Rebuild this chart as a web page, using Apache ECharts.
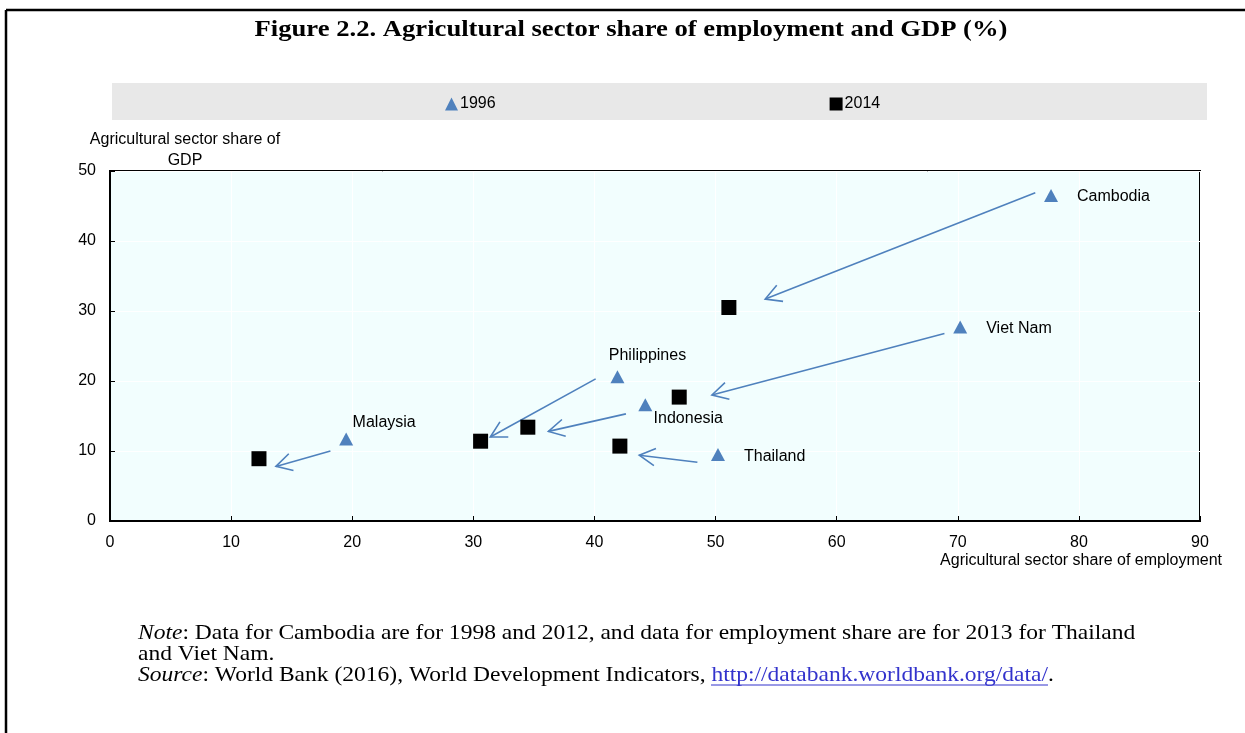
<!DOCTYPE html>
<html>
<head>
<meta charset="utf-8">
<script src="https://cdn.jsdelivr.net/npm/echarts@6/dist/echarts.min.js"></script>
<style>
  html, body { margin: 0; padding: 0; background: #fff; }
  #chart { width: 1245px; height: 733px; }
</style>
</head>
<body>
<div id="chart"></div>
<script>
(function () {
  // data
  var countries = ['Cambodia', 'Viet Nam', 'Philippines', 'Indonesia', 'Thailand', 'Malaysia'];
  var emp1996 = [77.7, 70.2, 41.9, 44.2, 50.2, 19.5];
  var gdp1996 = [46.5, 27.7, 20.6, 16.6, 9.5, 11.7];
  var emp2014 = [51.1, 47.0, 30.6, 34.5, 42.1, 12.3];
  var gdp2014 = [30.5, 17.7, 11.4, 13.4, 10.7, 8.9];
  // arrows as drawn on the figure (start near 1996 point, tip near 2014 point)
  var arrowFromX = [76.4, 68.9, 40.1, 42.6, 48.5, 18.2];
  var arrowFromY = [46.9, 26.8, 20.3, 15.3, 8.4, 10.0];
  var arrowToX = [54.1, 49.7, 31.4, 36.2, 43.7, 13.7];
  var arrowToY = [31.7, 18.0, 12.0, 12.8, 9.4, 7.8];
  var xTicks = [0, 90, 10];
  var yTicks = [0, 50, 10];

  var sans = "'Liberation Sans', Arial, sans-serif";
  var serif = "'Liberation Serif', 'Times New Roman', serif";
  var blue = '#4f81bd';

  // label placement for each country's 1996 marker
  var labelPos = {
    'Cambodia': { position: 'right', offset: [14, 1] },
    'Viet Nam': { position: 'right', offset: [14, 1] },
    'Philippines': { position: 'top', offset: [30, -2] },
    'Indonesia': { position: 'bottom', offset: [43, -6] },
    'Thailand': { position: 'right', offset: [14, 2] },
    'Malaysia': { position: 'top', offset: [38, 3] }
  };

  var tri = countries.map(function (c, i) {
    var lp = labelPos[c];
    return {
      value: [emp1996[i], gdp1996[i]],
      label: { show: true, formatter: c, position: lp.position, offset: lp.offset,
        color: '#000', fontSize: 16, fontFamily: sans }
    };
  });
  var sq = countries.map(function (c, i) { return [emp2014[i], gdp2014[i]]; });
  var arrows = countries.map(function (c, i) {
    return [arrowFromX[i], arrowFromY[i], arrowToX[i], arrowToY[i]];
  });

  var chart = echarts.init(document.getElementById('chart'));
  var option = {
    animation: false,
    textStyle: { fontFamily: sans },
    grid: {
      left: 110, right: 45, top: 171, bottom: 212,
      show: true, backgroundColor: '#f2fefe', borderColor: '#000', borderWidth: 2
    },
    legend: {
      left: 440, top: 91, itemGap: 334, itemWidth: 13, itemHeight: 13,
      textStyle: { color: '#000', fontSize: 16, fontFamily: sans, padding: [0, 0, 0, -3] },
      data: ['1996', '2014']
    },
    xAxis: {
      type: 'value', min: xTicks[0], max: xTicks[1], interval: xTicks[2],
      name: 'Agricultural sector share of employment',
      nameLocation: 'end', nameGap: 22,
      nameTextStyle: { align: 'right', verticalAlign: 'top', padding: [32, 0, 0, 0],
        color: '#000', fontSize: 16, fontFamily: sans },
      axisLine: { lineStyle: { color: '#000', width: 2 } },
      axisTick: { inside: true, length: 5, lineStyle: { color: '#000' } },
      axisLabel: { color: '#000', fontSize: 16, margin: 14 },
      splitLine: { lineStyle: { color: '#fff', width: 1 } }
    },
    yAxis: {
      type: 'value', min: yTicks[0], max: yTicks[1], interval: yTicks[2],
      axisLine: { show: true, lineStyle: { color: '#000', width: 2 } },
      axisTick: { show: true, inside: true, length: 5, lineStyle: { color: '#000' } },
      axisLabel: { color: '#000', fontSize: 16, margin: 14 },
      splitLine: { lineStyle: { color: '#fff', width: 1 } }
    },
    graphic: [
      { type: 'line', shape: { x1: 6, y1: 10, x2: 1245, y2: 10 }, style: { stroke: '#000', lineWidth: 2.5 } },
      { type: 'line', shape: { x1: 6, y1: 10, x2: 6, y2: 733 }, style: { stroke: '#000', lineWidth: 2.5 } },
      { type: 'text', x: 631, y: 30, scaleX: 1.11, style: { text: 'Figure 2.2. Agricultural sector share of employment and GDP (%)',
        font: 'bold 24px ' + serif, fill: '#000', textAlign: 'center', textVerticalAlign: 'middle' } },
      { type: 'rect', z: -1, shape: { x: 112, y: 83, width: 1095, height: 37 }, style: { fill: '#e8e8e8' } },
      { type: 'text', x: 185, y: 150, style: { text: 'Agricultural sector share of\nGDP',
        font: '16px ' + sans, fill: '#000', textAlign: 'center', textVerticalAlign: 'middle', lineHeight: 21 } },
      { type: 'text', x: 138, y: 623, scaleX: 1.12, style: {
        text: '{i|Note}: Data for Cambodia are for 1998 and 2012, and data for employment share are for 2013 for Thailand\nand Viet Nam.\n{i|Source}: World Bank (2016), World Development Indicators, {a|http://databank.worldbank.org/data/}.',
        font: '21px ' + serif, fill: '#000', lineHeight: 21,
        rich: {
          i: { fontStyle: 'italic', fontFamily: serif, fontSize: 21 },
          a: { fill: '#3333cc', color: '#3333cc', fontFamily: serif, fontSize: 21 }
        } } },
      { type: 'line', shape: { x1: 711, y1: 685, x2: 1048, y2: 685 }, style: { stroke: '#3333cc', lineWidth: 1 } }
    ],
    series: [
      {
        name: 'arrows', type: 'custom', z: 2, silent: true,
        data: arrows,
        renderItem: function (params, api) {
          var p0 = api.coord([api.value(0), api.value(1)]);
          var p1 = api.coord([api.value(2), api.value(3)]);
          var ang = Math.atan2(p0[1] - p1[1], p0[0] - p1[0]);
          var len = 18, spread = 0.5;
          var a1 = [p1[0] + len * Math.cos(ang + spread), p1[1] + len * Math.sin(ang + spread)];
          var a2 = [p1[0] + len * Math.cos(ang - spread), p1[1] + len * Math.sin(ang - spread)];
          var st = { stroke: blue, lineWidth: 1.6, fill: null };
          return {
            type: 'group',
            children: [
              { type: 'line', shape: { x1: p0[0], y1: p0[1], x2: p1[0], y2: p1[1] }, style: st },
              { type: 'polyline', shape: { points: [a1, p1, a2] }, style: st }
            ]
          };
        }
      },
      {
        name: '1996', type: 'scatter', symbol: 'triangle', symbolSize: [14, 13], z: 3,
        itemStyle: { color: blue, opacity: 1 },
        data: tri
      },
      {
        name: '2014', type: 'scatter', symbol: 'rect', symbolSize: 15, z: 3,
        itemStyle: { color: '#000', opacity: 1 },
        data: sq
      }
    ]
  };
  option && chart.setOption(option);
  window.addEventListener('resize', function () { chart.resize(); });
})();
</script>
</body>
</html>
